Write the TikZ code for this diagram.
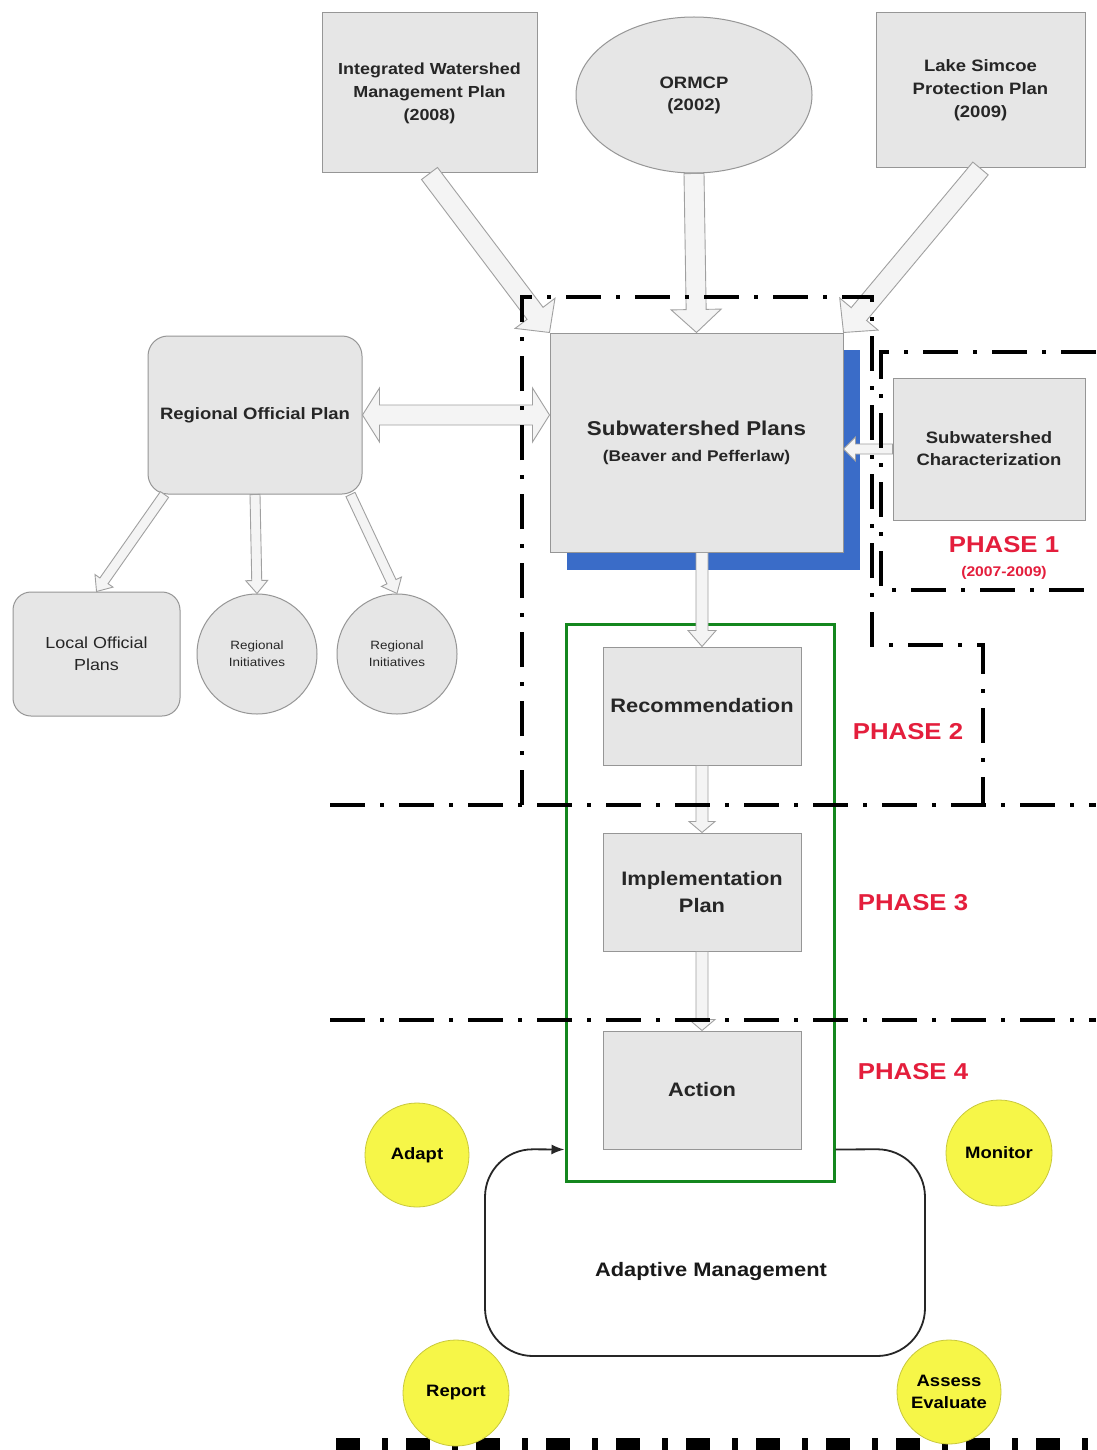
\documentclass[tikz,border=0pt]{standalone}
\usepackage{fontspec}
\setmainfont{Liberation Sans}[FakeStretch=1.12]
\usetikzlibrary{shapes.geometric,arrows.meta,calc}
\definecolor{boxfill}{RGB}{230,230,230}
\definecolor{boxline}{RGB}{150,150,150}
\definecolor{arrfill}{RGB}{244,244,244}
\definecolor{arrline}{RGB}{160,160,160}
\definecolor{shadowblue}{RGB}{58,108,200}
\definecolor{greenline}{RGB}{20,135,30}
\definecolor{phasered}{RGB}{228,30,60}
\definecolor{ylw}{RGB}{246,246,72}
\definecolor{ylwline}{RGB}{200,200,60}
\newcommand\setfs[2]{\fontsize{#1}{#2}\selectfont}
% block arrow: [style] start, end, half shaft, half head, head length
\newcommand\blockarr[6][barrow]{%
  \draw[#1] let \p1=(#2), \p2=(#3), \n1={atan2(\y2-\y1,\x2-\x1)}, \n2={veclen(\x2-\x1,\y2-\y1)} in
   [shift={(\p1)}, rotate=\n1]
   (0pt,-#4) -- (\n2-#6,-#4) -- (\n2-#6,-#5) -- (\n2,0pt) -- (\n2-#6,#5) -- (\n2-#6,#4) -- (0pt,#4) -- cycle;
}
\newcommand\dblockarr[6][barrow]{%
  \draw[#1] let \p1=(#2), \p2=(#3), \n1={atan2(\y2-\y1,\x2-\x1)}, \n2={veclen(\x2-\x1,\y2-\y1)} in
   [shift={(\p1)}, rotate=\n1]
   (0pt,0pt) -- (#6,-#5) -- (#6,-#4) -- (\n2-#6,-#4) -- (\n2-#6,-#5) -- (\n2,0pt) -- (\n2-#6,#5) -- (\n2-#6,#4) -- (#6,#4) -- (#6,#5) -- cycle;
}
\begin{document}
\begin{tikzpicture}[x=1pt,y=-1pt,
 graybox/.style={draw=boxline, fill=boxfill, line width=1pt, inner sep=2pt, align=center, text=black!85},
 barrow/.style={draw=arrline, fill=arrfill, line width=0.9pt},
 ylwc/.style={circle, draw=ylwline, fill=ylw, line width=0.8pt, inner sep=0pt, align=center, font=\setfs{16.5}{22}\bfseries},
 phaseline/.style={line width=4pt, dash pattern=on 35pt off 15pt on 4pt off 15pt},
 phaselbl/.style={text=phasered, font=\setfs{23}{26}\bfseries},
 amline/.style={draw=black!85, line width=1.8pt, rounded corners=48pt}
]
\fill[white] (0,0) rectangle (1096,1450);
\useasboundingbox (0,0) rectangle (1096,1450);

% top sources
\node[graybox, minimum width=215pt, minimum height=160pt, font=\setfs{16}{23}\bfseries] (iwmp) at (429.5,93) {Integrated Watershed\\Management Plan\\(2008)};
\node[graybox, ellipse, minimum width=236pt, minimum height=156pt, font=\setfs{16.5}{22}\bfseries] (ormcp) at (694,95) {ORMCP\\(2002)};
\node[graybox, minimum width=209pt, minimum height=155pt, font=\setfs{16.5}{23}\bfseries] (ls) at (980.5,90.5) {Lake Simcoe\\Protection Plan\\(2009)};

% subwatershed plans with blue shadow
\fill[shadowblue] (567,350) rectangle (860,570);
\node[graybox, minimum width=293pt, minimum height=219pt, font=\setfs{20}{26}\bfseries] (sp) at (696.5,442.5)
  {Subwatershed Plans\\{\setfs{15.5}{20}\bfseries (Beaver and Pefferlaw)}};
\node[graybox, minimum width=192pt, minimum height=142pt, font=\setfs{16.5}{22}\bfseries] (char) at (989,449) {Subwatershed\\Characterization};

% regional
\node[graybox, rounded corners=20pt, minimum width=214pt, minimum height=158pt, font=\setfs{16.5}{22}\bfseries] (rop) at (255,415) {Regional Official Plan};
\node[graybox, rounded corners=18pt, minimum width=167pt, minimum height=124pt, font=\setfs{16}{22}] (lop) at (96.5,654) {Local Official\\Plans};
\node[graybox, circle, minimum size=120pt, font=\setfs{12}{17}] (ri1) at (257,654) {Regional\\Initiatives};
\node[graybox, circle, minimum size=120pt, font=\setfs{12}{17}] (ri2) at (397,654) {Regional\\Initiatives};

% green container and steps
\node[draw=greenline, line width=3pt, minimum width=268pt, minimum height=557pt] (grn) at (700,902.5) {};
\node[graybox, minimum width=198pt, minimum height=118pt, font=\setfs{19.5}{26}\bfseries] (rec) at (702,706) {Recommendation};
\node[graybox, minimum width=198pt, minimum height=118pt, font=\setfs{19.5}{27}\bfseries] (impl) at (702,892) {Implementation\\Plan};
\node[graybox, minimum width=198pt, minimum height=118pt, font=\setfs{19.5}{26}\bfseries] (act) at (702,1090) {Action};

% block arrows
\blockarr{iwmp.south}{sp.north west}{10pt}{25pt}{24pt}
\blockarr{ormcp.south}{sp.north}{10pt}{25pt}{23pt}
\blockarr{ls.south}{sp.north east}{10pt}{25pt}{24pt}
\dblockarr{rop.east}{rop.east -| sp.west}{10pt}{27pt}{17pt}
\blockarr{[xshift=17pt]rop.south west}{lop.north}{5pt}{11pt}{13pt}
\blockarr{rop.south}{ri1.north}{5pt}{11pt}{13pt}
\blockarr{[xshift=-12pt]rop.south east}{ri2.north}{5pt}{11pt}{13pt}
\blockarr{char.west}{char.west -| sp.east}{5pt}{12pt}{12pt}
\blockarr{rec.north |- sp.south}{rec.north}{6pt}{14pt}{16pt}
\blockarr{rec.south}{impl.north}{6pt}{13pt}{11pt}
\blockarr{impl.south}{act.north}{6pt}{13pt}{11pt}

% phase boundaries
\draw[phaseline] (522,805) -- (522,297) -- (872,297) -- (872,645) -- (983,645) -- (983,805);
\draw[phaseline] (1096,352) -- (881,352) -- (881,590) -- (1096,590);
\draw[phaseline] (330,805) -- (1096,805);
\draw[phaseline] (330,1020) -- (1096,1020);
\draw[line width=24pt, dash pattern=on 24pt off 22pt on 6pt off 18pt] (336,1450) -- (1096,1450);

% phase labels
\node[phaselbl] (p1) at (1004,545) {PHASE 1};
\node[text=phasered, font=\setfs{14}{16}\bfseries] (p1y) at (1004,573) {(2007-2009)};
\node[phaselbl] (p2) at (908,732) {PHASE 2};
\node[phaselbl] (p3) at (913,903) {PHASE 3};
\node[phaselbl] (p4) at (913,1072) {PHASE 4};

% adaptive management loop
\draw[amline, -{Latex[length=13pt,width=10pt]}] (grn.east |- act.south) -- (925,1149) -- (925,1356) -- (485,1356) -- (485,1149) -- (grn.west |- act.south);
\node[font=\setfs{19.5}{24}\bfseries, text=black!90] (am) at (711,1271) {Adaptive Management};

% adaptive cycle circles
\node[ylwc, minimum size=104pt] (adapt) at (417,1155) {Adapt};
\node[ylwc, minimum size=106pt] (monitor) at (999,1153) {Monitor};
\node[ylwc, minimum size=106pt] (report) at (456,1393) {Report};
\node[ylwc, minimum size=104pt] (assess) at (949,1392) {Assess\\Evaluate};
\end{tikzpicture}
\end{document}
